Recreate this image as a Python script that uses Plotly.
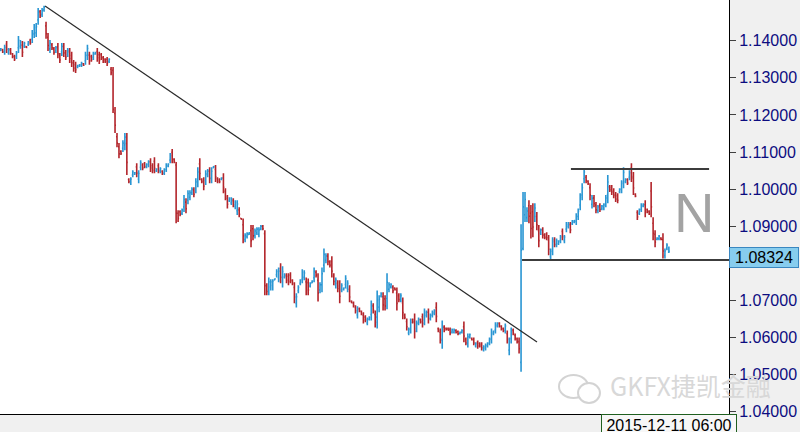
import plotly.graph_objects as go

opens = [
1.1374, 1.1375, 1.1370, 1.1391, 1.1367, 1.1376, 1.1364, 1.1358, 1.1357, 1.1381,
1.1385, 1.1388, 1.1385, 1.1384, 1.1390, 1.1401, 1.1404, 1.1418, 1.1421, 1.1456,
1.1478, 1.1471, 1.1483, 1.1440, 1.1409, 1.1378, 1.1389, 1.1378, 1.1373, 1.1384,
1.1360, 1.1370, 1.1384, 1.1368, 1.1363, 1.1370, 1.1360, 1.1340, 1.1335, 1.1329,
1.1331, 1.1333, 1.1338, 1.1346, 1.1360, 1.1361, 1.1357, 1.1355, 1.1364, 1.1371,
1.1362, 1.1362, 1.1354, 1.1350, 1.1350, 1.1344, 1.1323, 1.1320, 1.1204, 1.1141,
1.1114, 1.1102, 1.1110, 1.1119, 1.1123, 1.1026,
1.1017, 1.1038, 1.1040, 1.1060,
1.1027, 1.1059, 1.1065, 1.1069, 1.1060, 1.1065, 1.1074, 1.1063,
1.1075, 1.1049, 1.1063, 1.1048, 1.1048, 1.1043, 1.1053, 1.1062, 1.1078, 1.1099, 1.1080,
1.1065, 1.0935, 1.0939, 1.0935, 1.0952, 1.0965,
1.0970, 1.0978, 1.0990, 1.0998,
1.1001, 1.1021, 1.1068, 1.1026, 1.1023, 1.1023, 1.1039,
1.1048, 1.1029, 1.1058, 1.1053, 1.1028, 1.1026, 1.1026,
1.1030, 1.0994, 1.0975, 1.0969, 1.0963, 1.0969, 1.0953, 1.0942, 1.0944, 1.0921, 1.0904, 1.0864, 1.0872,
1.0878, 1.0888, 1.0893, 1.0875, 1.0882, 1.0878, 1.0893, 1.0900,
1.0880, 1.0738, 1.0728, 1.0736, 1.0740, 1.0755, 1.0769, 1.0761, 1.0786,
1.0752, 1.0763, 1.0766, 1.0765, 1.0768, 1.0753, 1.0735, 1.0692, 1.0726, 1.0746,
1.0757, 1.0762, 1.0750, 1.0748, 1.0739, 1.0748, 1.0761, 1.0776, 1.0754, 1.0728,
1.0742, 1.0795, 1.0808, 1.0819, 1.0803, 1.0805, 1.0765, 1.0741, 1.0746, 1.0739,
1.0729, 1.0729, 1.0743, 1.0732, 1.0730, 1.0698, 1.0693, 1.0681, 1.0661, 1.0678,
1.0670, 1.0660, 1.0655, 1.0639, 1.0649, 1.0662, 1.0685, 1.0662, 1.0655, 1.0682,
1.0712, 1.0710, 1.0704, 1.0705, 1.0730, 1.0736, 1.0736, 1.0733, 1.0720, 1.0713,
1.0702, 1.0693, 1.0661, 1.0643, 1.0612, 1.0623, 1.0648, 1.0648, 1.0624, 1.0639,
1.0648, 1.0656, 1.0647, 1.0660, 1.0668, 1.0652, 1.0660, 1.0665, 1.0681, 1.0624,
1.0614, 1.0593, 1.0628, 1.0625, 1.0624, 1.0622, 1.0615, 1.0614, 1.0619, 1.0616,
1.0610, 1.0614, 1.0629, 1.0595, 1.0584, 1.0601, 1.0598, 1.0595, 1.0577, 1.0587,
1.0584, 1.0582, 1.0567, 1.0571, 1.0577, 1.0585, 1.0596, 1.0610, 1.0620, 1.0631,
1.0638, 1.0630, 1.0624, 1.0619, 1.0610, 1.0566, 1.0597, 1.0620, 1.0606, 1.0596, 1.0589,
1.0533, 1.0840, 1.0931, 1.0923, 1.0955, 1.0935, 1.0939, 1.0926, 1.0926,
1.0888, 1.0881, 1.0890, 1.0877, 1.0879, 1.0862, 1.0818, 1.0836, 1.0863, 1.0850,
1.0853, 1.0861, 1.0886, 1.0861, 1.0892, 1.0899, 1.0904, 1.0907, 1.0911, 1.0913,
1.0926, 1.0957, 1.0984, 1.1028, 1.1032, 1.1021, 1.1004, 1.0959, 1.0976, 1.0957,
1.0942, 1.0956, 1.0947, 1.0949, 1.0961, 1.0985, 1.1006, 1.1004, 1.0995, 1.0985,
1.0982, 1.0993, 1.1000, 1.1019, 1.1020, 1.1025, 1.1032, 1.1057, 1.1030, 1.0986,
1.0937, 1.0935, 1.0945, 1.0954, 1.0958, 1.0945, 1.0940, 1.0995, 1.0908, 1.0878,
1.0864, 1.0866, 1.0868, 1.0864, 1.0821, 1.0841, 1.0830,
]

highs = [
1.1380, 1.1378, 1.1389, 1.1399, 1.1380, 1.1380, 1.1367, 1.1362, 1.1372, 1.1413,
1.1402, 1.1399, 1.1397, 1.1386, 1.1399, 1.1405, 1.1429, 1.1445, 1.1448, 1.1488,
1.1483, 1.1488, 1.1494, 1.1451, 1.1421, 1.1402, 1.1394, 1.1383, 1.1386, 1.1394,
1.1367, 1.1394, 1.1394, 1.1375, 1.1380, 1.1380, 1.1370, 1.1348, 1.1343, 1.1335,
1.1337, 1.1343, 1.1340, 1.1370, 1.1389, 1.1370, 1.1362, 1.1370, 1.1370, 1.1380,
1.1370, 1.1367, 1.1359, 1.1353, 1.1356, 1.1353, 1.1329, 1.1329, 1.1221, 1.1151,
1.1124, 1.1105, 1.1132, 1.1151, 1.1151, 1.1029,
1.1032, 1.1051, 1.1046, 1.1070,
1.1051, 1.1078, 1.1070, 1.1073, 1.1070, 1.1078, 1.1083, 1.1070,
1.1086, 1.1056, 1.1070, 1.1059, 1.1051, 1.1056, 1.1070, 1.1070, 1.1097, 1.1108, 1.1083,
1.1073, 1.0943, 1.0943, 1.0948, 1.0984, 1.0975,
1.0997, 1.0997, 1.1005, 1.1005,
1.1029, 1.1059, 1.1083, 1.1029, 1.1032, 1.1051, 1.1054,
1.1059, 1.1059, 1.1062, 1.1065, 1.1032, 1.1029, 1.1032,
1.1043, 1.1002, 1.0984, 1.0978, 1.0978, 1.0975, 1.0970, 1.0970, 1.0951, 1.0922, 1.0921, 1.0881, 1.0884,
1.0884, 1.0903, 1.0903, 1.0894, 1.0897, 1.0897, 1.0903, 1.0903,
1.0889, 1.0746, 1.0762, 1.0757, 1.0757, 1.0759, 1.0784, 1.0789, 1.0800,
1.0792, 1.0773, 1.0773, 1.0773, 1.0776, 1.0757, 1.0749, 1.0719, 1.0741, 1.0757,
1.0784, 1.0781, 1.0762, 1.0759, 1.0749, 1.0754, 1.0789, 1.0781, 1.0773, 1.0749,
1.0789, 1.0840, 1.0827, 1.0827, 1.0808, 1.0819, 1.0773, 1.0762, 1.0754, 1.0754,
1.0746, 1.0735, 1.0768, 1.0754, 1.0741, 1.0700, 1.0697, 1.0687, 1.0684, 1.0681,
1.0673, 1.0668, 1.0660, 1.0654, 1.0657, 1.0700, 1.0692, 1.0673, 1.0727, 1.0714,
1.0722, 1.0722, 1.0714, 1.0773, 1.0749, 1.0746, 1.0741, 1.0735, 1.0735, 1.0719,
1.0719, 1.0708, 1.0665, 1.0651, 1.0627, 1.0651, 1.0651, 1.0665, 1.0646, 1.0654,
1.0651, 1.0665, 1.0678, 1.0673, 1.0678, 1.0665, 1.0673, 1.0676, 1.0695, 1.0627,
1.0624, 1.0646, 1.0633, 1.0627, 1.0627, 1.0627, 1.0624, 1.0624, 1.0622, 1.0619,
1.0616, 1.0622, 1.0643, 1.0600, 1.0611, 1.0611, 1.0600, 1.0600, 1.0587, 1.0592,
1.0587, 1.0587, 1.0579, 1.0584, 1.0587, 1.0600, 1.0624, 1.0619, 1.0641, 1.0641,
1.0641, 1.0633, 1.0627, 1.0638, 1.0619, 1.0600, 1.0627, 1.0624, 1.0611, 1.0600, 1.0600,
1.0905, 1.0992, 1.0992, 1.0951, 1.0970, 1.0957, 1.0962, 1.0962, 1.0938,
1.0903, 1.0894, 1.0897, 1.0881, 1.0884, 1.0876, 1.0840, 1.0870, 1.0870, 1.0867,
1.0862, 1.0876, 1.0894, 1.0876, 1.0911, 1.0911, 1.0911, 1.0917, 1.0917, 1.0935,
1.0948, 1.0989, 1.1016, 1.1056, 1.1038, 1.1024, 1.1016, 1.0984, 1.0984, 1.0965,
1.0957, 1.0962, 1.0957, 1.0962, 1.0984, 1.1038, 1.1011, 1.1011, 1.1002, 1.0992,
1.0989, 1.1002, 1.1024, 1.1059, 1.1029, 1.1029, 1.1051, 1.1070, 1.1046, 1.0989,
1.0943, 1.0948, 1.0962, 1.0962, 1.0970, 1.0948, 1.0943, 1.1019, 1.0924, 1.0889,
1.0870, 1.0876, 1.0870, 1.0881, 1.0840, 1.0854, 1.0845,
]

lows = [
1.1372, 1.1367, 1.1362, 1.1367, 1.1362, 1.1362, 1.1353, 1.1345, 1.1351, 1.1367,
1.1378, 1.1356, 1.1380, 1.1380, 1.1386, 1.1389, 1.1394, 1.1407, 1.1410, 1.1443,
1.1461, 1.1464, 1.1478, 1.1405, 1.1372, 1.1367, 1.1375, 1.1362, 1.1367, 1.1353,
1.1340, 1.1359, 1.1356, 1.1348, 1.1356, 1.1340, 1.1329, 1.1316, 1.1313, 1.1326,
1.1329, 1.1329, 1.1332, 1.1335, 1.1348, 1.1335, 1.1343, 1.1348, 1.1362, 1.1343,
1.1337, 1.1348, 1.1340, 1.1340, 1.1332, 1.1340, 1.1307, 1.1205, 1.1151, 1.1113,
1.1083, 1.1092, 1.1100, 1.1105, 1.1038, 1.1016,
1.1011, 1.1032, 1.1038, 1.1032,
1.1016, 1.1051, 1.1051, 1.1056, 1.1056, 1.1059, 1.1046, 1.1043,
1.1043, 1.1046, 1.1043, 1.1043, 1.1038, 1.1038, 1.1046, 1.1059, 1.1070, 1.1070, 1.1070,
1.0908, 1.0911, 1.0927, 1.0930, 1.0938, 1.0935,
1.0959, 1.0970, 1.0984, 1.0978,
1.0989, 1.1005, 1.1024, 1.1016, 1.0997, 1.1011, 1.1032,
1.1016, 1.1016, 1.1056, 1.1019, 1.1016, 1.1016, 1.1024,
1.0989, 1.0970, 1.0948, 1.0965, 1.0957, 1.0951, 1.0946, 1.0930, 1.0924, 1.0918, 1.0854, 1.0857, 1.0867,
1.0876, 1.0843, 1.0862, 1.0867, 1.0876, 1.0870, 1.0889, 1.0889,
1.0714, 1.0714, 1.0714, 1.0727, 1.0727, 1.0754, 1.0762, 1.0749, 1.0746,
1.0735, 1.0759, 1.0746, 1.0741, 1.0746, 1.0741, 1.0692, 1.0681, 1.0719, 1.0741,
1.0746, 1.0754, 1.0714, 1.0714, 1.0735, 1.0746, 1.0749, 1.0762, 1.0697, 1.0719,
1.0722, 1.0776, 1.0800, 1.0795, 1.0789, 1.0762, 1.0741, 1.0732, 1.0722, 1.0692,
1.0722, 1.0727, 1.0732, 1.0722, 1.0695, 1.0692, 1.0681, 1.0665, 1.0651, 1.0668,
1.0660, 1.0638, 1.0641, 1.0633, 1.0646, 1.0646, 1.0665, 1.0627, 1.0624, 1.0668,
1.0708, 1.0673, 1.0673, 1.0676, 1.0722, 1.0732, 1.0719, 1.0727, 1.0673, 1.0695,
1.0695, 1.0649, 1.0649, 1.0619, 1.0606, 1.0611, 1.0638, 1.0597, 1.0614, 1.0633,
1.0638, 1.0627, 1.0633, 1.0654, 1.0638, 1.0646, 1.0654, 1.0660, 1.0641, 1.0614,
1.0584, 1.0570, 1.0614, 1.0619, 1.0619, 1.0606, 1.0611, 1.0611, 1.0611, 1.0606,
1.0608, 1.0611, 1.0587, 1.0579, 1.0573, 1.0597, 1.0592, 1.0579, 1.0573, 1.0570,
1.0573, 1.0565, 1.0562, 1.0565, 1.0573, 1.0579, 1.0584, 1.0606, 1.0611, 1.0627,
1.0627, 1.0619, 1.0614, 1.0611, 1.0584, 1.0552, 1.0584, 1.0606, 1.0592, 1.0584, 1.0557,
1.0508, 1.0835, 1.0911, 1.0911, 1.0908, 1.0867, 1.0870, 1.0911, 1.0889,
1.0843, 1.0876, 1.0867, 1.0865, 1.0862, 1.0822, 1.0808, 1.0822, 1.0843, 1.0843,
1.0849, 1.0854, 1.0862, 1.0854, 1.0884, 1.0894, 1.0881, 1.0903, 1.0908, 1.0903,
1.0917, 1.0943, 1.0970, 1.1016, 1.1016, 1.1011, 1.0970, 1.0948, 1.0951, 1.0935,
1.0935, 1.0938, 1.0943, 1.0943, 1.0951, 1.0962, 1.0992, 1.0984, 1.0975, 1.0965,
1.0962, 1.0989, 1.0989, 1.1002, 1.1016, 1.1011, 1.1024, 1.1019, 1.0984, 1.0978,
1.0917, 1.0930, 1.0938, 1.0951, 1.0924, 1.0935, 1.0930, 1.0924, 1.0862, 1.0843,
1.0862, 1.0862, 1.0862, 1.0813, 1.0813, 1.0835, 1.0828,
]

closes = [
1.1378, 1.1370, 1.1382, 1.1377, 1.1376, 1.1367, 1.1357, 1.1350, 1.1367, 1.1402,
1.1396, 1.1369, 1.1393, 1.1382, 1.1396, 1.1394, 1.1420, 1.1436, 1.1438, 1.1477,
1.1468, 1.1482, 1.1490, 1.1419, 1.1387, 1.1393, 1.1381, 1.1368, 1.1381, 1.1365,
1.1348, 1.1385, 1.1367, 1.1356, 1.1374, 1.1352, 1.1341, 1.1326, 1.1322, 1.1333,
1.1335, 1.1339, 1.1334, 1.1361, 1.1379, 1.1346, 1.1349, 1.1364, 1.1368, 1.1354,
1.1347, 1.1354, 1.1346, 1.1344, 1.1339, 1.1350, 1.1314, 1.1215, 1.1172, 1.1124,
1.1095, 1.1096, 1.1124, 1.1140, 1.1072, 1.1020,
1.1027, 1.1046, 1.1044, 1.1043,
1.1042, 1.1071, 1.1057, 1.1061, 1.1067, 1.1073, 1.1057, 1.1051,
1.1056, 1.1054, 1.1051, 1.1055, 1.1042, 1.1052, 1.1064, 1.1067, 1.1090, 1.1081, 1.1074,
1.0935, 1.0921, 1.0932, 1.0944, 1.0972, 1.0947,
1.0988, 1.0990, 1.1000, 1.0986,
1.1019, 1.1046, 1.1042, 1.1020, 1.1008, 1.1041, 1.1049,
1.1029, 1.1048, 1.1061, 1.1033, 1.1021, 1.1020, 1.1030,
1.1005, 1.0980, 1.0959, 1.0975, 1.0973, 1.0958, 1.0964, 1.0960, 1.0932, 1.0919, 1.0874, 1.0875, 1.0880,
1.0882, 1.0861, 1.0874, 1.0887, 1.0892, 1.0890, 1.0900, 1.0893,
1.0740, 1.0724, 1.0750, 1.0750, 1.0752, 1.0758, 1.0778, 1.0779, 1.0762,
1.0778, 1.0770, 1.0754, 1.0751, 1.0755, 1.0746, 1.0709, 1.0710, 1.0735, 1.0753,
1.0775, 1.0774, 1.0728, 1.0728, 1.0746, 1.0752, 1.0779, 1.0768, 1.0720, 1.0742,
1.0772, 1.0824, 1.0820, 1.0805, 1.0795, 1.0779, 1.0751, 1.0755, 1.0732, 1.0711,
1.0740, 1.0733, 1.0759, 1.0746, 1.0709, 1.0694, 1.0686, 1.0672, 1.0676, 1.0672,
1.0664, 1.0647, 1.0647, 1.0649, 1.0654, 1.0687, 1.0673, 1.0641, 1.0701, 1.0703,
1.0718, 1.0688, 1.0685, 1.0749, 1.0742, 1.0743, 1.0726, 1.0729, 1.0692, 1.0702,
1.0713, 1.0667, 1.0654, 1.0629, 1.0622, 1.0641, 1.0642, 1.0617, 1.0638, 1.0649,
1.0642, 1.0638, 1.0667, 1.0668, 1.0650, 1.0660, 1.0668, 1.0672, 1.0657, 1.0618,
1.0596, 1.0627, 1.0620, 1.0621, 1.0620, 1.0612, 1.0621, 1.0620, 1.0614, 1.0610,
1.0614, 1.0619, 1.0604, 1.0585, 1.0602, 1.0608, 1.0594, 1.0585, 1.0583, 1.0577,
1.0577, 1.0572, 1.0575, 1.0579, 1.0584, 1.0595, 1.0614, 1.0616, 1.0634, 1.0638,
1.0631, 1.0623, 1.0618, 1.0631, 1.0595, 1.0588, 1.0616, 1.0611, 1.0598, 1.0589, 1.0570,
1.0835, 1.0952, 1.0972, 1.0941, 1.0927, 1.0894, 1.0898, 1.0949, 1.0904,
1.0861, 1.0890, 1.0876, 1.0870, 1.0869, 1.0838, 1.0832, 1.0858, 1.0851, 1.0861,
1.0859, 1.0871, 1.0872, 1.0871, 1.0904, 1.0907, 1.0890, 1.0914, 1.0915, 1.0927,
1.0940, 1.0978, 1.1004, 1.1046, 1.1023, 1.1015, 1.0984, 1.0975, 1.0961, 1.0944,
1.0952, 1.0945, 1.0954, 1.0957, 1.0976, 1.1019, 1.0998, 1.0992, 1.0983, 1.0973,
1.0970, 1.0999, 1.1015, 1.1045, 1.1026, 1.1016, 1.1044, 1.1034, 1.1003, 1.0981,
1.0925, 1.0944, 1.0956, 1.0959, 1.0938, 1.0939, 1.0934, 1.0952, 1.0881, 1.0857,
1.0868, 1.0873, 1.0864, 1.0833, 1.0833, 1.0849, 1.08324,
]

bars = list(range(len(closes)))

tick_values = [1.04, 1.05, 1.06, 1.07, 1.08, 1.09, 1.10, 1.11, 1.12, 1.13, 1.14]
tick_labels = ["1.04000", "1.05000", "1.06000", "1.07000", "", "1.09000",
               "1.10000", "1.11000", "1.12000", "1.13000", "1.14000"]

current_price = 1.08324
current_label = "1.08324"
date_label = "2015-12-11 06:00"
watermark = "GKFX捷凯金融"
pattern_letter = "N"

# drawn lines: (bar index, price) endpoints
trend_start = [22.5, 1.14935]
trend_end = [272.1, 1.05879]
resistance_bars = [289.3, 359.4]
resistance_level = 1.1054
support_bars = [264.5, 369.5]
support_level = 1.0809

fig = go.Figure()
fig.add_trace(go.Ohlc(
    x=bars, open=opens, high=highs, low=lows, close=closes,
    increasing=dict(line=dict(color="#2996d3", width=1.6)),
    decreasing=dict(line=dict(color="#b3252b", width=1.6)),
    tickwidth=0.5, hoverinfo="skip", showlegend=False,
))

shapes = [
    dict(type="line", xref="x", yref="y", x0=trend_start[0], y0=trend_start[1],
         x1=trend_end[0], y1=trend_end[1], line=dict(color="#2a2a2a", width=1.2)),
    dict(type="line", xref="x", yref="y", x0=resistance_bars[0], y0=resistance_level,
         x1=resistance_bars[1], y1=resistance_level, line=dict(color="#3c3c3c", width=2)),
    dict(type="line", xref="x", yref="y", x0=support_bars[0], y0=support_level,
         x1=support_bars[1], y1=support_level, line=dict(color="#3c3c3c", width=2)),
    # wechat-like icon of the watermark
    dict(type="circle", xref="paper", yref="paper", x0=0.7668, x1=0.8066, y0=0.0386, y1=0.0942,
         line=dict(color="#d3d3d3", width=2), fillcolor="rgba(255,255,255,0)", layer="above"),
    dict(type="circle", xref="paper", yref="paper", x0=0.7929, x1=0.8230, y0=0.0266, y1=0.0749,
         line=dict(color="#d3d3d3", width=2), fillcolor="white", layer="above"),
]

annotations = [
    dict(x=351.7, y=1.0936, xref="x", yref="y", text=pattern_letter, showarrow=False,
         font=dict(family="Liberation Sans, Arial", size=56, color="#a3a3a3")),
    dict(x=1, xref="paper", xanchor="left", y=current_price, yref="y", yshift=-6,
         text=current_label, showarrow=False, bgcolor="#87cdee", bordercolor="#3a87c0",
         borderwidth=1, borderpad=1, width=66, height=17,
         font=dict(family="Liberation Sans, Arial", size=16, color="black")),
    dict(x=0.8244, xref="paper", xanchor="left", y=0, yref="paper", yanchor="top",
         text=date_label, showarrow=False, bgcolor="#f7f7f7", bordercolor="#1f5f1f",
         borderwidth=1, borderpad=1, width=132, height=18,
         font=dict(family="Liberation Sans, Arial", size=16, color="black")),
    dict(x=0.834, xref="paper", xanchor="left", y=0.07, yref="paper", yanchor="middle",
         text=watermark, showarrow=False,
         font=dict(family="Noto Sans CJK SC", size=25, color="#d8d8d8")),
]

fig.update_layout(
    width=800, height=432,
    margin=dict(l=0, r=71, t=0, b=18),
    paper_bgcolor="#f0f0f0", plot_bgcolor="white",
    showlegend=False, hovermode=False,
    shapes=shapes, annotations=annotations,
    xaxis=dict(range=[-0.36, 369.5], showgrid=False, zeroline=False, showticklabels=False,
               ticks="", showline=True, linecolor="black", linewidth=1,
               rangeslider=dict(visible=False), fixedrange=True),
    yaxis=dict(side="right", range=[1.03938, 1.15097], tickvals=tick_values, ticktext=tick_labels,
               tickfont=dict(family="Liberation Sans, Arial", size=16, color="#0c0c80"),
               ticks="outside", ticklen=6, tickcolor="#404040", showline=True,
               linecolor="black", linewidth=1, showgrid=False, zeroline=False, fixedrange=True),
)

fig.write_html("out.html", config={"displayModeBar": False},
               post_script="document.body.style.margin='0';document.body.style.overflow='hidden';")
